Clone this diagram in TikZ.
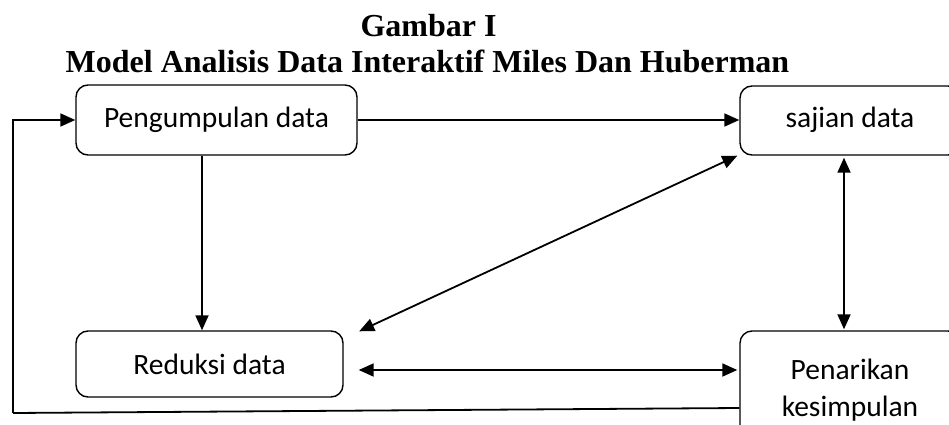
\documentclass[tikz,border=0pt]{standalone}
\usepackage{fontspec}
\setmainfont{Liberation Serif}
\newfontfamily\boxfont{Carlito}
\usetikzlibrary{arrows.meta,calc}
\begin{document}
\begin{tikzpicture}[x=1pt,y=-1pt,
  box/.style={draw,line width=1.4pt,rounded corners=12pt,inner sep=0pt},
  lbl/.style={font=\boxfont\fontsize{29.5}{36}\selectfont,inner sep=0pt},
  ttl/.style={font=\bfseries\fontsize{32}{38}\selectfont,inner sep=0pt,anchor=base},
  arr/.style={line width=1.8pt,-{Triangle[length=15pt,width=13pt]}},
  dbl/.style={line width=1.8pt,{Triangle[length=15pt,width=13pt]}-{Triangle[length=15pt,width=13pt]}}]
\clip (0,0) rectangle (949,425);
\fill[white] (0,0) rectangle (949,425);
\node[ttl] (t1) at (428.5,37) {Gambar I};
\node[ttl] (t2) at (427.5,73) {Model Analisis Data Interaktif Miles Dan Huberman};
\node[box,minimum width=281pt,minimum height=70pt] (b1) at (216.5,120) {};
\node[lbl] (l1) at (216.5,120) {Pengumpulan data};
\node[box,minimum width=220pt,minimum height=69pt] (b2) at (850,120.5) {};
\node[lbl] (l2) at (850,120) {sajian data};
\node[box,minimum width=267pt,minimum height=66pt] (b3) at (209.5,364) {};
\node[lbl] (l3) at (209.5,364) {Reduksi data};
\node[box,minimum width=220pt,minimum height=110pt] (b4) at (850,386) {};
\node[lbl,anchor=base] (l4a) at (850,379) {Penarikan};
\node[lbl,anchor=base] (l4b) at (850,416) {kesimpulan};
% connectors
\draw[arr] (b1.east) -- (b1.east -| b2.west);
\draw[arr] ([xshift=-14.5pt]b1.south) -- ([xshift=-7.5pt]b3.north);
\draw[dbl] ([xshift=15.5pt,yshift=-1pt]b3.north east) -- ([xshift=-2pt,yshift=0pt]b2.south west);
\draw[dbl] ([xshift=-6pt,yshift=-2pt]b2.south) -- ([xshift=-6pt,yshift=1pt]b4.north);
\coordinate (h1) at ([xshift=15pt,yshift=-6pt]b3.east);
\draw[dbl] (h1) -- ([xshift=-2pt]h1 -| b4.west);
\coordinate (fb) at (13,413);
\draw[line width=1.8pt] ([yshift=-22pt]b4.west) -- (fb);
\draw[arr] (fb) |- (b1.west);
\end{tikzpicture}
\end{document}
